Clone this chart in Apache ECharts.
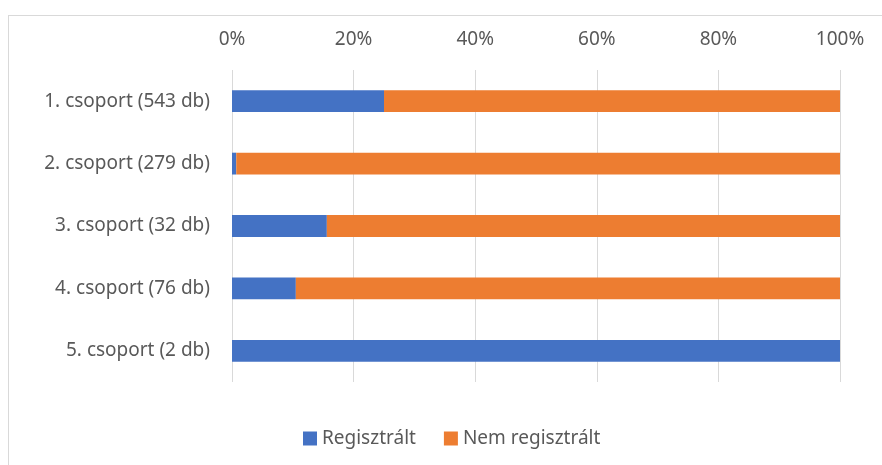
<!DOCTYPE html>
<html>
<head>
<meta charset="utf-8">
<script src="https://cdn.jsdelivr.net/npm/echarts@6/dist/echarts.min.js"></script>
<style>
  html, body { margin: 0; padding: 0; background: #fff; }
  #frame { position: absolute; left: 8px; top: 15px; width: 900px; height: 480px; border: 1px solid #D9D9D9; box-sizing: border-box; }
  #chart { width: 882px; height: 465px; }
</style>
</head>
<body>
<div id="frame"></div>
<div id="chart"></div>
<script>
  // csoportok, felülről lefelé
  var categories = ['1. csoport (543 db)', '2. csoport (279 db)', '3. csoport (32 db)', '4. csoport (76 db)', '5. csoport (2 db)'];
  // százalékos megoszlás
  var regisztralt = [25.0, 0.7, 15.6, 10.5, 100];
  var nemRegisztralt = [75.0, 99.3, 84.4, 89.5, 0];
  var tickValues = [0, 20, 40, 60, 80, 100];

  var font = 'Noto Sans';
  var myChart = echarts.init(document.getElementById('chart'));
  myChart.setOption({
    animation: false,
    textStyle: { fontFamily: font },
    grid: { left: 232, right: 42, top: 70, bottom: 83 },
    legend: {
      top: 424,
      left: 298,
      itemWidth: 14,
      itemHeight: 14,
      itemGap: 28,
      icon: 'rect',
      textStyle: { fontSize: 19, color: '#595959', fontFamily: font },
      data: ['Regisztrált', 'Nem regisztrált']
    },
    xAxis: {
      type: 'value',
      position: 'top',
      min: 0,
      max: 100,
      interval: 20,
      axisLine: { show: false },
      axisTick: { show: false },
      axisLabel: {
        margin: 21,
        fontSize: 19,
        color: '#595959',
        formatter: function (v) { return tickValues.indexOf(v) >= 0 ? v + '%' : ''; }
      },
      splitLine: { lineStyle: { color: '#D9D9D9', width: 1 } }
    },
    yAxis: {
      type: 'category',
      inverse: true,
      data: categories,
      axisLine: { show: false },
      axisTick: { show: false },
      axisLabel: { margin: 22, fontSize: 19, color: '#595959' }
    },
    series: [{
      name: 'Regisztrált',
      type: 'bar',
      stack: 'total',
      barCategoryGap: '65%',
      itemStyle: { color: '#4472C4' },
      data: regisztralt
    }, {
      name: 'Nem regisztrált',
      type: 'bar',
      stack: 'total',
      barCategoryGap: '65%',
      itemStyle: { color: '#ED7D31' },
      data: nemRegisztralt
    }]
  });
</script>
</body>
</html>
